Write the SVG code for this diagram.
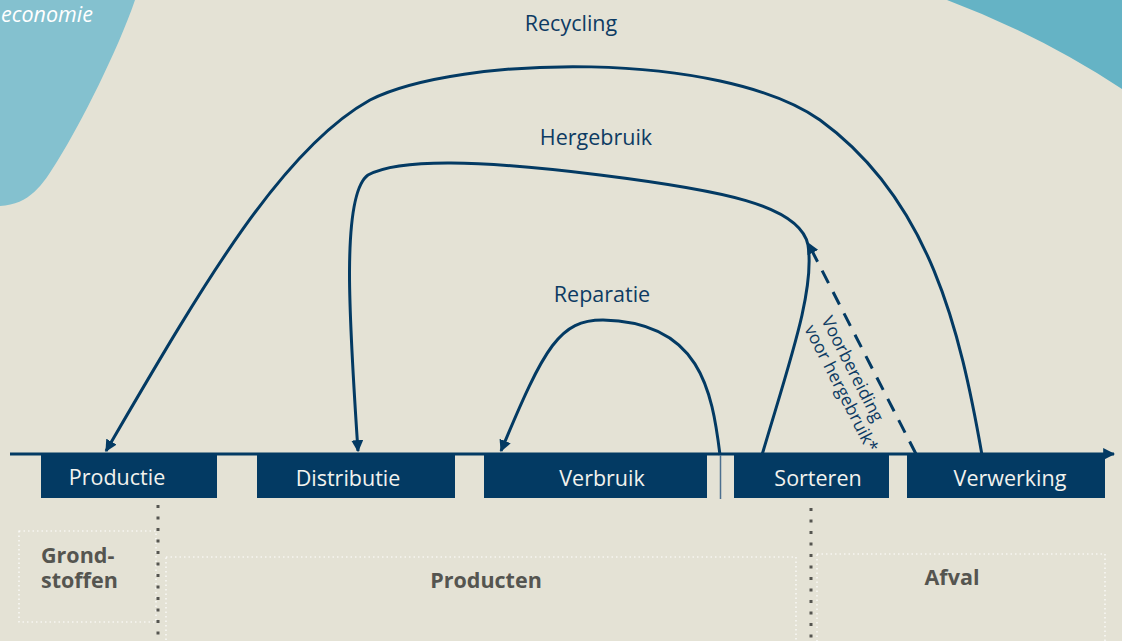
<svg xmlns="http://www.w3.org/2000/svg" width="1122" height="641" viewBox="0 0 1122 641">
<defs>
<style>
.box{fill:#033a63}
.bt{font-family:"Open Sans","Liberation Sans",sans-serif;font-size:21.5px;fill:#f2f2ee;text-anchor:middle}
.lbl{font-family:"Open Sans","Liberation Sans",sans-serif;font-size:21.5px;fill:#0d3b63;text-anchor:middle}
.flow{fill:none;stroke:#033a63;stroke-width:3}
.cat{font-family:"Open Sans","Liberation Sans",sans-serif;font-size:21.5px;font-weight:bold;fill:#555550}
.zone{fill:none;stroke:#ffffff;stroke-width:1.2;stroke-dasharray:1.5 3}
.sep{fill:none;stroke:#555550;stroke-width:3;stroke-dasharray:3 8.5}
</style>
<marker id="ah" viewBox="0 0 10 10" refX="9" refY="5" markerWidth="4" markerHeight="4" orient="auto" markerUnits="strokeWidth">
<path d="M0,0 L10,5 L0,10 Z" fill="#033a63"/>
</marker>
</defs>
<rect width="1122" height="641" fill="#e4e2d5"/>
<path d="M0,0 H135 C 118,50 80,125 58,160 C 42,186 30,204 0,206 Z" fill="#84c1cf"/>
<path d="M947,0 H1122 V89 Q1040,35 947,0 Z" fill="#65b3c5"/>
<text x="1" y="22" font-family="'Open Sans','Liberation Sans',sans-serif" font-size="21.5" font-style="italic" fill="#ffffff">economie</text>

<g id="connectors">
<path class="flow" d="M10,454 H1114" marker-end="url(#ah)"/>
<path class="flow" d="M982,455 C 960,330 930,200 820,120 C 720,50 460,55 370,100 C 280,150 200,290 106,451" marker-end="url(#ah)"/>
<path class="flow" d="M762,455 C 790,360 815,290 808,245 C 800,205 720,190 600,175 C 480,160 400,158 368,175 C 340,195 350,330 358,451" marker-end="url(#ah)"/>
<path class="flow" d="M720,455 C 712,390 700,322 603,320 C 560,320 545,345 501,451" marker-end="url(#ah)"/>
<path class="flow" d="M916,454 L808,243" stroke-dasharray="14 10" marker-end="url(#ah)"/>
<line x1="720.5" y1="455" x2="720.5" y2="499" stroke="#4b6f8f" stroke-width="1.5"/>
</g>

<text class="lbl" x="571" y="31">Recycling</text>
<text class="lbl" x="596" y="145">Hergebruik</text>
<text class="lbl" x="602" y="302">Reparatie</text>
<text font-family="'Open Sans','Liberation Sans',sans-serif" font-size="17.5" fill="#0d3b63" transform="translate(821,320) rotate(63)"><tspan x="0" y="0">Voorbereiding</tspan><tspan x="0" y="19">voor hergebruik*</tspan></text>

<g id="productie"><rect class="box" x="41" y="455" width="176" height="43"/><text class="bt" x="117" y="485">Productie</text></g>
<g id="distributie"><rect class="box" x="257" y="455" width="198" height="43"/><text class="bt" x="348" y="486">Distributie</text></g>
<g id="verbruik"><rect class="box" x="484" y="455" width="223" height="43"/><text class="bt" x="602" y="486">Verbruik</text></g>
<g id="sorteren"><rect class="box" x="734" y="455" width="155" height="43"/><text class="bt" x="818" y="486">Sorteren</text></g>
<g id="verwerking"><rect class="box" x="907" y="455" width="198" height="43"/><text class="bt" x="1010" y="486">Verwerking</text></g>

<g id="grondstoffen"><rect class="zone" x="19" y="531" width="137" height="91"/><text class="cat"><tspan x="41" y="563">Grond-</tspan><tspan x="41" y="588">stoffen</tspan></text></g>
<g id="producten"><rect class="zone" x="166" y="557" width="630" height="100"/><text class="cat" x="486" y="588" text-anchor="middle">Producten</text></g>
<g id="afval"><rect class="zone" x="817" y="554" width="288" height="100"/><text class="cat" x="952" y="585" text-anchor="middle">Afval</text></g>
<path class="sep" d="M158,505 V641"/>
<path class="sep" d="M811,508 V641"/>
</svg>
